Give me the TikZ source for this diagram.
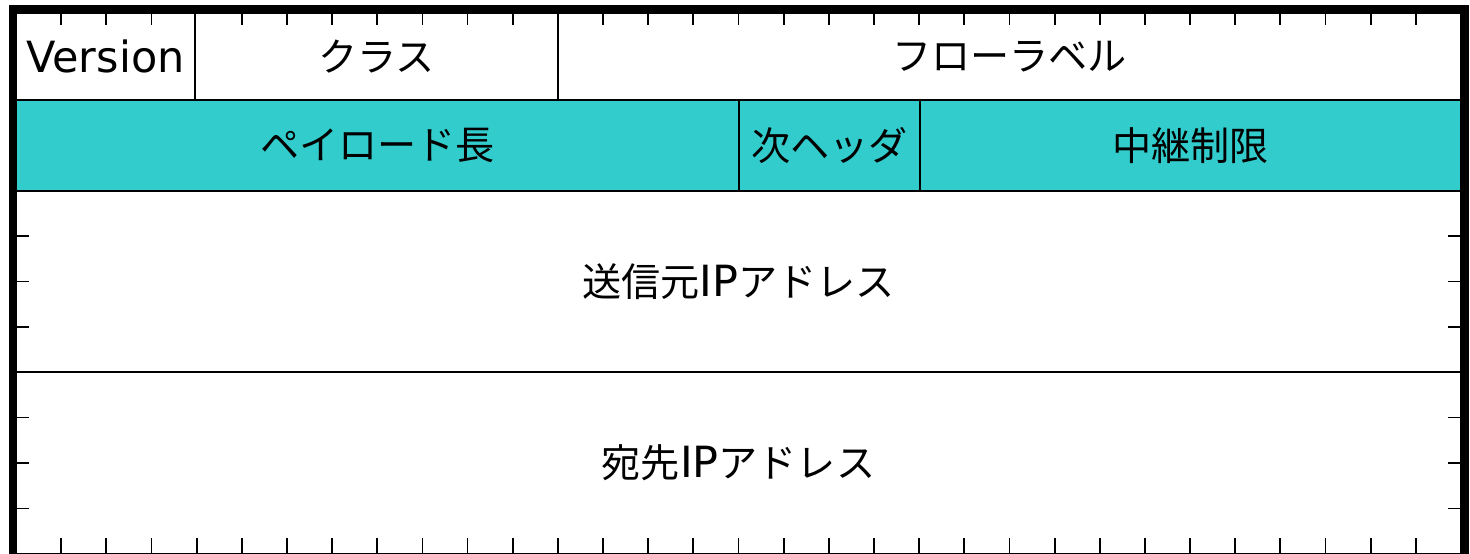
\documentclass[tikz,border=0pt]{standalone}
\usepackage{fontspec}
\setmainfont{DejaVu Sans}
\newfontfamily\jp[Scale=0.91]{Noto Sans CJK JP}
\usetikzlibrary{positioning}
\definecolor{hdrcyan}{RGB}{51,204,204}

\begin{document}
\begin{tikzpicture}[x=0.5pt,y=-0.5pt,font=\fontsize{21.5}{25}\selectfont]
        \tikzstyle{cell}=[draw=black, line width=1pt, rectangle, anchor=north west,
            outer sep=0pt, inner sep=0pt, minimum height=43.5pt]
        \tikzstyle{tick}=[line width=0.9pt]
        \useasboundingbox (0,0) rectangle (1470,553);

        \node[cell, minimum width=89.5pt]  (ver)  at (16,13)  {Version};
        \node[cell, minimum width=181.5pt] (cls)  at (195,13) {\jp クラス};
        \node[cell, minimum width=451.5pt] (flow) at (558,13) {\jp フローラベル};

        \node[cell, fill=hdrcyan, minimum width=361.5pt, minimum height=45.5pt] (plen) at (16,100)  {\jp ペイロード長};
        \node[cell, fill=hdrcyan, minimum width=90.5pt,  minimum height=45.5pt] (nxt)  at (739,100) {\jp 次ヘッダ};
        \node[cell, fill=hdrcyan, minimum width=270.5pt, minimum height=45.5pt] (hop)  at (920,100) {\jp 中継制限};

        \node[cell, minimum width=722.5pt, minimum height=90.5pt] (src) at (16,191) {{\jp 送信元}IP{\jp アドレス}};
        \node[cell, minimum width=722.5pt, minimum height=91pt]   (dst) at (16,372) {{\jp 宛先}IP{\jp アドレス}};

        % bit marks
        \foreach \i in {1,2,3,5,6,7,8,9,10,11,13,14,...,31}
            \draw[tick] (16+\i*45.156,13) -- ++(0,12);
        \foreach \i in {1,...,31}
            \draw[tick] (16+\i*45.156,554) -- ++(0,-16);
        \foreach \k in {1,2,3} {
            \draw[tick] ([yshift=-\k*22.625pt]src.north west) -- ++(13,0);
            \draw[tick] ([yshift=-\k*22.625pt]src.north east) -- ++(-13,0);
            \draw[tick] ([yshift=-\k*22.75pt]dst.north west) -- ++(13,0);
            \draw[tick] ([yshift=-\k*22.75pt]dst.north east) -- ++(-13,0);
        }

        \draw[line width=4pt] (12.5,9) rectangle (1465,558);
\end{tikzpicture}
\end{document}
